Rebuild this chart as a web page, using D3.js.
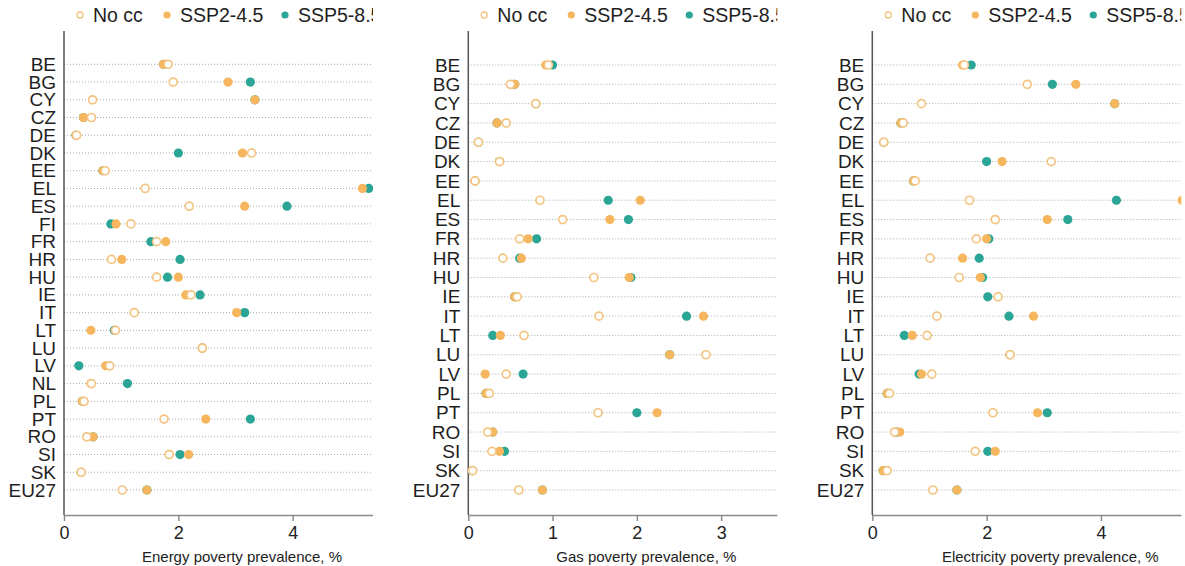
<!DOCTYPE html>
<html>
<head>
<meta charset="utf-8">
<script src="https://cdn.jsdelivr.net/npm/d3@7"></script>
<style>
  body { margin: 0; background: #fff; }
  svg { display: block; font-family: "Liberation Sans", Arial, sans-serif; }
</style>
</head>
<body>
<div id="chart"></div>
<script>
// DATA
const energyCountries = ['BE','BG','CY','CZ','DE','DK','EE','EL','ES','FI','FR','HR','HU','IE','IT','LT','LU','LV','NL','PL','PT','RO','SI','SK','EU27'];
const energyNoCC   = [1.82,1.91,0.50,0.48,0.22,3.28,0.72,1.42,2.19,1.17,1.62,0.83,1.62,2.22,1.23,0.90,2.42,0.80,0.48,0.35,1.75,0.40,1.84,0.30,1.02];
const energySSP245 = [1.74,2.87,3.34,0.34,0.21,3.12,0.68,5.22,3.16,0.91,1.78,1.01,2.00,2.13,3.02,0.47,2.42,0.73,0.47,0.32,2.48,0.51,2.18,0.30,1.45];
const energySSP585 = [1.74,3.26,3.34,0.34,0.21,2.00,0.68,5.33,3.90,0.82,1.52,2.03,1.81,2.38,3.16,0.88,2.42,0.26,1.11,0.32,3.26,0.51,2.03,0.30,1.45];

const gasCountries = ['BE','BG','CY','CZ','DE','DK','EE','EL','ES','FR','HR','HU','IE','IT','LT','LU','LV','PL','PT','RO','SI','SK','EU27'];
const gasNoCC   = [0.95,0.50,0.80,0.45,0.12,0.37,0.08,0.85,1.12,0.61,0.41,1.49,0.58,1.55,0.66,2.82,0.45,0.25,1.54,0.23,0.28,0.05,0.60];
const gasSSP245 = [0.92,0.55,0.80,0.34,0.12,0.37,0.08,2.04,1.68,0.71,0.63,1.91,0.55,2.79,0.38,2.39,0.20,0.21,2.24,0.29,0.37,0.05,0.88];
const gasSSP585 = [1.00,0.55,0.80,0.34,0.12,0.37,0.08,1.66,1.90,0.81,0.61,1.93,0.55,2.59,0.29,2.39,0.65,0.21,2.00,0.29,0.43,0.05,0.88];

const elecCountries = ['BE','BG','CY','CZ','DE','DK','EE','EL','ES','FR','HR','HU','IE','IT','LT','LU','LV','PL','PT','RO','SI','SK','EU27'];
const elecNoCC   = [1.61,2.71,0.86,0.54,0.20,3.13,0.75,1.70,2.15,1.82,1.01,1.52,2.20,1.13,0.96,2.41,1.04,0.30,2.11,0.39,1.80,0.26,1.06];
const elecSSP245 = [1.58,3.56,4.24,0.50,0.20,2.27,0.72,5.42,3.06,2.00,1.58,1.89,null,2.82,0.70,2.41,0.86,0.26,2.89,0.48,2.15,0.19,1.48];
const elecSSP585 = [1.73,3.15,4.24,0.50,0.20,2.00,0.72,4.27,3.42,2.04,1.87,1.93,2.02,2.39,0.56,2.41,0.82,0.26,3.06,0.43,2.02,0.19,1.48];

const seriesNames = ['No cc', 'SSP2-4.5', 'SSP5-8.5'];
const colors = { nocc: '#f4c482', ssp245: '#f6b65d', ssp585: '#2ba596' };

const panels = [
  { x0: 64,    xMax: 5.44, ticks: [0,2,4], title: 'Energy poverty prevalence, %',
    countries: energyCountries, nocc: energyNoCC, ssp245: energySSP245, ssp585: energySSP585, rowTop: 64.3 },
  { x0: 468.3, xMax: 3.69, ticks: [0,1,2,3], title: 'Gas poverty prevalence, %',
    countries: gasCountries, nocc: gasNoCC, ssp245: gasSSP245, ssp585: gasSSP585, rowTop: 65 },
  { x0: 872.3, xMax: 5.44, ticks: [0,2,4], title: 'Electricity poverty prevalence, %',
    countries: elecCountries, nocc: elecNoCC, ssp245: elecSSP245, ssp585: elecSSP585, rowTop: 65 }
];

const W = 1185, H = 566;
const plotW = 311;
const axisTop = 31, axisBottom = 515, rowBottom = 490;

const svg = d3.select('#chart').append('svg')
  .attr('width', W).attr('height', H);

const defs = svg.append('defs');

panels.forEach((p, pi) => {
  const x = d3.scaleLinear().domain([0, p.xMax]).range([p.x0, p.x0 + plotW]);
  const y = d3.scalePoint().domain(p.countries).range([p.rowTop, rowBottom]);

  // clip so legend and dots are cut at the right edge of each panel
  defs.append('clipPath').attr('id', 'clip' + pi)
    .append('rect')
    .attr('x', p.x0 - 64).attr('y', 0)
    .attr('width', plotW + 62).attr('height', H);

  const g = svg.append('g').attr('clip-path', `url(#clip${pi})`);

  // dotted gridlines
  g.append('g').selectAll('line')
    .data(p.countries)
    .enter().append('line')
    .attr('x1', p.x0).attr('x2', p.x0 + plotW)
    .attr('y1', d => y(d)).attr('y2', d => y(d))
    .style('stroke', '#a9a9a9')
    .style('stroke-width', 1)
    .style('stroke-dasharray', '1,2');

  // x axis
  const xAxis = g.append('g')
    .attr('transform', `translate(0,${axisBottom})`)
    .call(d3.axisBottom(x).tickValues(p.ticks).tickSize(6).tickSizeOuter(0).tickFormat(d3.format('d')));
  xAxis.select('.domain').style('stroke', '#8a8a8a').style('stroke-width', 1.5);
  xAxis.selectAll('.tick line').style('stroke', '#8a8a8a').style('stroke-width', 1.5);
  xAxis.selectAll('text')
    .attr('y', 11)
    .style('font-size', '18px')
    .style('fill', '#222')
    .style('font-family', '"Liberation Sans", Arial, sans-serif');

  // y axis
  const yAxis = g.append('g')
    .attr('transform', `translate(${p.x0},0)`)
    .call(d3.axisLeft(y).tickSize(0).tickPadding(8));
  yAxis.select('.domain').remove();
  yAxis.selectAll('text')
    .style('font-size', '19px')
    .style('fill', '#1e1e1e')
    .style('font-family', '"Liberation Sans", Arial, sans-serif');
  g.append('line')
    .attr('x1', p.x0).attr('x2', p.x0)
    .attr('y1', axisTop).attr('y2', axisBottom)
    .style('stroke', '#555')
    .style('stroke-width', 1.5);

  // axis title
  g.append('text')
    .attr('x', p.x0 + 178).attr('y', 562)
    .attr('text-anchor', 'middle')
    .style('font-size', '15px')
    .style('fill', '#222')
    .text(p.title);

  const rows = p.countries.map((c, i) => ({ c, nocc: p.nocc[i], ssp245: p.ssp245[i], ssp585: p.ssp585[i] }));

  // SSP5-8.5 dots
  g.append('g').selectAll('circle')
    .data(rows.filter(d => d.ssp585 != null))
    .enter().append('circle')
    .attr('cx', d => x(d.ssp585)).attr('cy', d => y(d.c))
    .attr('r', 4.6)
    .style('fill', colors.ssp585);

  // SSP2-4.5 dots
  g.append('g').selectAll('circle')
    .data(rows.filter(d => d.ssp245 != null))
    .enter().append('circle')
    .attr('cx', d => x(d.ssp245)).attr('cy', d => y(d.c))
    .attr('r', 4.6)
    .style('fill', colors.ssp245);

  // No cc open circles
  g.append('g').selectAll('circle')
    .data(rows.filter(d => d.nocc != null))
    .enter().append('circle')
    .attr('cx', d => x(d.nocc)).attr('cy', d => y(d.c))
    .attr('r', 4)
    .style('fill', '#fff')
    .style('stroke', colors.nocc)
    .style('stroke-width', 1.7);

  // legend
  const leg = g.append('g').attr('transform', `translate(${p.x0},15)`);
  const legItems = [
    { name: seriesNames[0], dx: 16,  open: true,  color: colors.nocc },
    { name: seriesNames[1], dx: 103, open: false, color: colors.ssp245 },
    { name: seriesNames[2], dx: 221, open: false, color: colors.ssp585 }
  ];
  legItems.forEach(it => {
    leg.append('circle')
      .attr('cx', it.dx).attr('cy', 0)
      .attr('r', it.open ? 3 : 3.6)
      .style('fill', it.open ? '#fff' : it.color)
      .style('stroke', it.open ? it.color : 'none')
      .style('stroke-width', 1.3);
    leg.append('text')
      .attr('x', it.dx + 13).attr('y', 0)
      .attr('dy', '0.35em')
      .style('font-size', '19.5px')
      .style('fill', '#1e1e1e')
      .text(it.name);
  });
});
</script>
</body>
</html>
